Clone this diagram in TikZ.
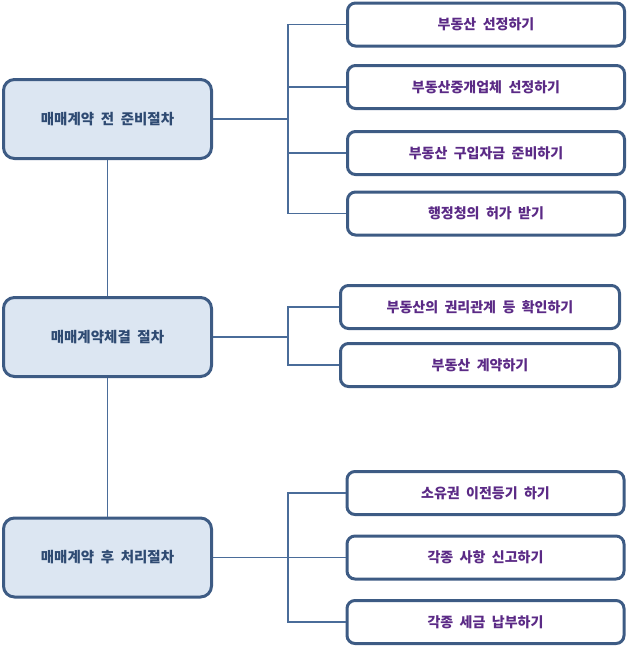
\documentclass[tikz,border=0pt]{standalone}
\usepackage{fontspec}
\setmainfont[WordSpace=2]{Noto Sans CJK KR}
\usetikzlibrary{positioning}
\definecolor{boxline}{HTML}{3D5B84}
\definecolor{boxfill}{HTML}{DCE6F2}
\definecolor{linkline}{HTML}{4A6C99}
\definecolor{stagetext}{HTML}{2E4A72}
\definecolor{tasktext}{HTML}{5B2A86}
\tikzset{
  stage/.style={draw=boxline, fill=boxfill, line width=3pt, rounded corners=11pt, minimum width=208pt, minimum height=79pt, align=center, text=stagetext, font=\fontsize{14.5}{16}\selectfont\bfseries},
  task/.style={draw=boxline, fill=white, line width=3pt, rounded corners=8pt, minimum width=277pt, minimum height=43pt, align=center, text=tasktext, font=\fontsize{14}{16}\selectfont\bfseries},
  link/.style={draw=linkline, line width=1.1pt}
}
\begin{document}
\begin{tikzpicture}[x=1pt, y=-1pt]
  \useasboundingbox (0,0) rectangle (628,646);

  \node[stage] (pre) at (107.5,119) {매매계약 전 준비절차};
  \node[stage] (deal) at (107.5,337) {매매계약체결 절차};
  \node[stage] (post) at (107.5,557.5) {매매계약 후 처리절차};

  \node[task] (t1) at (486,24.5) {부동산 선정하기};
  \node[task] (t2) at (486,87) {부동산중개업체 선정하기};
  \node[task] (t3) at (486,153) {부동산 구입자금 준비하기};
  \node[task] (t4) at (486,213.5) {행정청의 허가 받기};
  \node[task, minimum width=279pt] (t5) at (480,307) {부동산의 권리관계 등 확인하기};
  \node[task, minimum width=279pt] (t6) at (480,365) {부동산 계약하기};
  \node[task] (t7) at (485.5,493) {소유권 이전등기 하기};
  \node[task] (t8) at (485.5,557.5) {각종 사항 신고하기};
  \node[task] (t9) at (485.5,622) {각종 세금 납부하기};

  \coordinate (j1) at (288,119);
  \coordinate (j2) at (288,337);
  \coordinate (j3) at (288,557.5);

  \draw[link] (pre) -- (deal);
  \draw[link] (deal) -- (post);

  \draw[link] (pre) -- (j1);
  \draw[link] (j1) |- (t1);
  \draw[link] (j1) |- (t2);
  \draw[link] (j1) |- (t3);
  \draw[link] (j1) |- (t4);

  \draw[link] (deal) -- (j2);
  \draw[link] (j2) |- (t5);
  \draw[link] (j2) |- (t6);

  \draw[link] (post) -- (j3);
  \draw[link] (j3) |- (t7);
  \draw[link] (j3) |- (t8);
  \draw[link] (j3) |- (t9);
\end{tikzpicture}
\end{document}
